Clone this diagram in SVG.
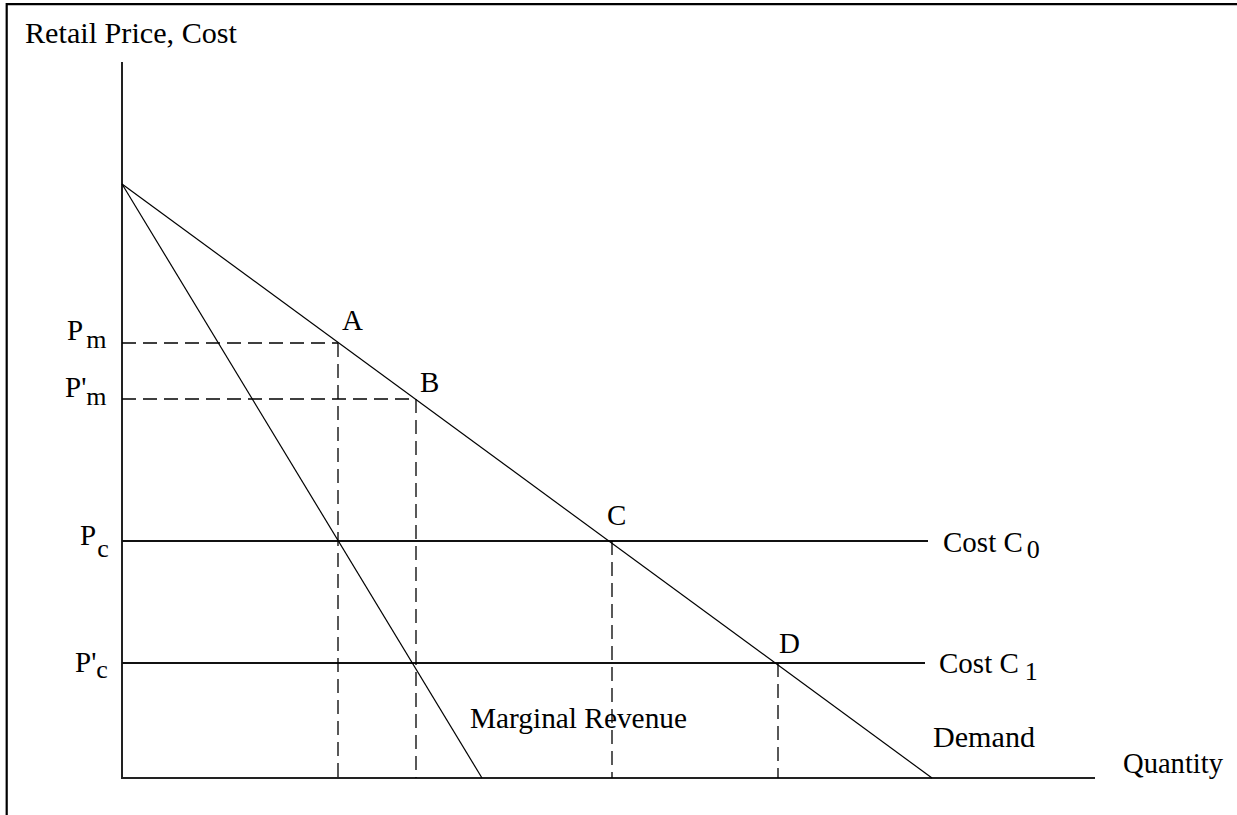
<svg xmlns="http://www.w3.org/2000/svg" width="1237" height="815" viewBox="0 0 1237 815">
<style>
text{font-family:"Liberation Serif","Times New Roman",serif;font-size:29px;fill:#000}
.sub{font-size:26px}
.axis{stroke:#222;stroke-width:2;fill:none}
.cost{stroke:#111;stroke-width:2;fill:none}
.curve{stroke:#000;stroke-width:1.2;fill:none}
.dash{stroke:#000;stroke-width:1.3;fill:none;stroke-dasharray:14 7}
</style>
<rect x="0" y="0" width="1237" height="815" fill="#fff"/>
<path d="M6.7,815 V4.2 H1237" stroke="#000" stroke-width="2.2" fill="none"/>
<g id="connectors">
<line class="axis" x1="122" y1="62" x2="122" y2="778"/>
<line class="axis" x1="121" y1="778" x2="1095" y2="778"/>
<line class="cost" x1="122" y1="541" x2="928" y2="541"/>
<line class="cost" x1="122" y1="663" x2="925" y2="663"/>
<line class="curve" x1="122" y1="184" x2="932" y2="778"/>
<line class="curve" x1="122" y1="184" x2="482" y2="778"/>
<line class="dash" x1="122" y1="343" x2="338" y2="343"/>
<line class="dash" x1="122" y1="399" x2="416" y2="399"/>
<line class="dash" x1="338" y1="343" x2="338" y2="778"/>
<line class="dash" x1="416" y1="399" x2="416" y2="778"/>
<line class="dash" x1="612" y1="541" x2="612" y2="778"/>
<line class="dash" x1="778" y1="663" x2="778" y2="778"/>
</g>
<g id="y-title"><text x="25" y="43" textLength="212" lengthAdjust="spacingAndGlyphs">Retail Price, Cost</text></g>
<g id="x-title"><text x="1123" y="773" textLength="100" lengthAdjust="spacingAndGlyphs">Quantity</text></g>
<g id="label-pm"><text x="67" y="340">P<tspan class="sub" dx="3" dy="8">m</tspan></text></g>
<g id="label-pm2"><text x="65" y="397">P'<tspan class="sub" dy="8">m</tspan></text></g>
<g id="label-pc"><text x="80" y="545">P<tspan class="sub" dx="1" dy="12">c</tspan></text></g>
<g id="label-pc2"><text x="75" y="672">P'<tspan class="sub" dy="6">c</tspan></text></g>
<g id="point-a"><text x="342" y="330">A</text></g>
<g id="point-b"><text x="420" y="392">B</text></g>
<g id="point-c"><text x="607" y="525">C</text></g>
<g id="point-d"><text x="779" y="653">D</text></g>
<g id="label-c0"><text x="943" y="552">Cost C<tspan class="sub" dx="4" dy="6">0</tspan></text></g>
<g id="label-c1"><text x="939" y="673">Cost C<tspan class="sub" dx="6" dy="7">1</tspan></text></g>
<g id="label-demand"><text x="933" y="747" textLength="102" lengthAdjust="spacingAndGlyphs">Demand</text></g>
<g id="label-mr"><text x="470" y="728" textLength="217" lengthAdjust="spacingAndGlyphs">Marginal Revenue</text></g>
</svg>
